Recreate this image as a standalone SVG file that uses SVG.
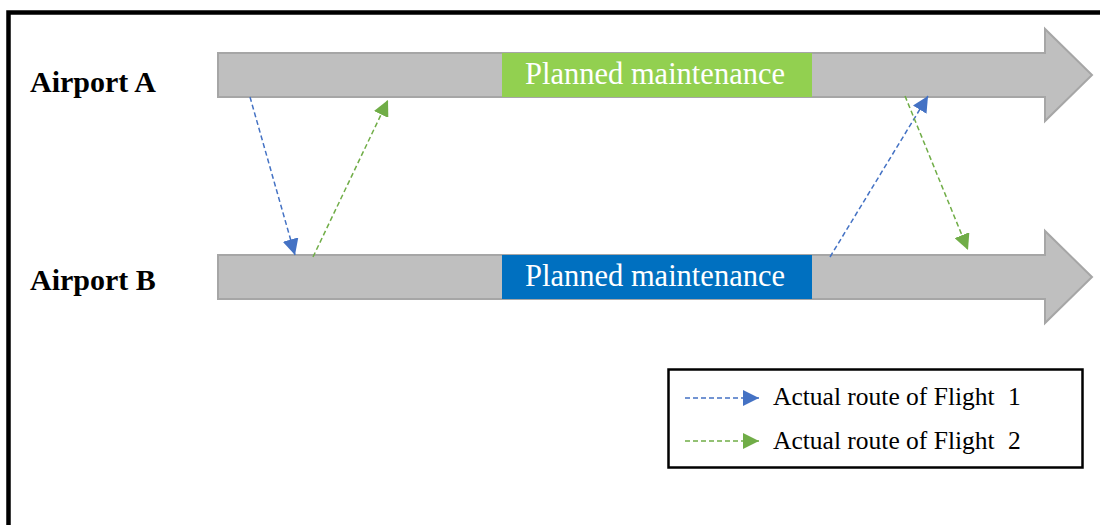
<svg xmlns="http://www.w3.org/2000/svg" width="1100" height="525" viewBox="0 0 1100 525">
<defs>
<style>
.bar{fill:#bfbfbf;stroke:#a6a6a6;stroke-width:2}
.lbl{font-family:"Liberation Serif","Times New Roman",serif;font-weight:bold;font-size:30px;fill:#000}
.mt{font-family:"Liberation Serif","Times New Roman",serif;font-size:30.5px;fill:#fff}
.leg{font-family:"Liberation Serif","Times New Roman",serif;font-size:25.5px;fill:#000}
.f1{fill:none;stroke:#4472c4;stroke-width:1.5;stroke-dasharray:5,3}
.f2{fill:none;stroke:#70ad47;stroke-width:1.5;stroke-dasharray:5,3}
</style>
<marker id="ab" viewBox="0 0 10 10" refX="10" refY="5" markerUnits="userSpaceOnUse" markerWidth="16" markerHeight="16" orient="auto"><path d="M0,0 L10,5 L0,10 z" fill="#4472c4"/></marker>
<marker id="ag" viewBox="0 0 10 10" refX="10" refY="5" markerUnits="userSpaceOnUse" markerWidth="16" markerHeight="16" orient="auto"><path d="M0,0 L10,5 L0,10 z" fill="#70ad47"/></marker>
</defs>
<rect x="0" y="0" width="1100" height="525" fill="#fff"/>
<rect x="8.5" y="12.5" width="1200" height="600" fill="none" stroke="#000" stroke-width="4.5"/>
<g id="airportA">
<path class="bar" d="M218,53 H1045 V29 L1092,75 L1045,121 V97 H218 Z"/>
<text class="lbl" x="30" y="92">Airport A</text>
</g>
<g id="maintA">
<rect x="502" y="53" width="310" height="44" fill="#92d050"/>
<text class="mt" x="655" y="84" text-anchor="middle">Planned maintenance</text>
</g>
<g id="airportB">
<path class="bar" d="M218,255 H1045 V231 L1092,277 L1045,323 V299 H218 Z"/>
<text class="lbl" x="30" y="290">Airport B</text>
</g>
<g id="maintB">
<rect x="502" y="255" width="310" height="44" fill="#0070c0"/>
<text class="mt" x="655" y="286" text-anchor="middle">Planned maintenance</text>
</g>
<g id="connectors">
<line class="f1" x1="250" y1="97" x2="295" y2="255" marker-end="url(#ab)"/>
<line class="f2" x1="313" y1="257" x2="388" y2="100" marker-end="url(#ag)"/>
<line class="f1" x1="830" y1="257" x2="928" y2="96" marker-end="url(#ab)"/>
<line class="f2" x1="905" y1="96" x2="968" y2="250" marker-end="url(#ag)"/>
</g>
<g id="legend">
<rect x="668.5" y="369.5" width="414" height="98" fill="#fff" stroke="#000" stroke-width="2.5"/>
<line class="f1" x1="685" y1="398" x2="759" y2="398" marker-end="url(#ab)"/>
<text class="leg" x="773" y="405">Actual route of Flight <tspan dx="7">1</tspan></text>
<line class="f2" x1="685" y1="441" x2="759" y2="441" marker-end="url(#ag)"/>
<text class="leg" x="773" y="449">Actual route of Flight <tspan dx="7">2</tspan></text>
</g>
</svg>
